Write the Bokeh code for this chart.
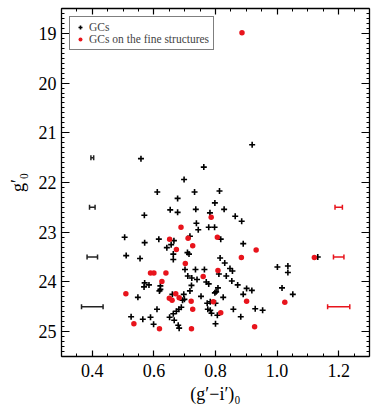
from bokeh.plotting import figure
from bokeh.models import (Range1d, LinearAxis, Whisker, ColumnDataSource, Legend,
                          LegendItem, TeeHead, SingleIntervalTicker, NumeralTickFormatter,
                          CustomJSTickFormatter)
from bokeh.embed import file_html
from bokeh.resources import INLINE

# ---- data: all GCs (black crosses) ----
gc_color = [0.558, 0.762, 0.698, 0.611, 0.732, 0.677, 0.653, 0.677, 0.736, 0.569,
            0.782, 0.738, 0.744, 0.778, 0.797, 0.919, 0.813, 0.798, 0.828, 0.864,
            0.885, 0.505, 0.570, 0.616, 0.665, 0.717, 0.656, 0.642, 0.510, 0.555,
            0.663, 0.663, 0.709, 0.714, 0.701, 0.735, 0.764, 0.710, 0.723, 0.740,
            0.770, 0.570, 0.584, 0.568, 0.621, 0.621, 0.618, 0.722, 0.778, 0.717,
            0.697, 0.660, 0.548, 0.693, 0.699, 0.753, 0.773, 0.783, 0.689, 0.681,
            0.673, 0.663, 0.775, 0.783, 0.610, 0.651, 0.666, 0.526, 0.564, 0.589,
            0.599, 0.679, 0.682, 0.817, 0.890, 0.815, 0.830, 0.847, 0.855, 0.811,
            0.835, 0.853, 0.872, 0.808, 0.802, 0.798, 0.901, 0.918, 0.890, 0.825,
            0.800, 0.787, 0.806, 0.858, 0.929, 0.953, 0.882, 0.800, 1.001, 1.035,
            1.035, 1.016, 1.051, 1.132]
gc_mag = [21.52, 21.69, 21.94, 22.19, 22.19, 22.32, 22.55, 22.60, 22.54, 22.66,
          22.61, 22.82, 22.95, 22.90, 22.90, 21.24, 22.17, 22.41, 22.54, 22.68,
          22.78, 23.10, 23.21, 23.14, 23.17, 23.08, 23.25, 23.31, 23.47, 23.53,
          23.44, 23.55, 23.41, 23.44, 23.75, 23.75, 23.75, 23.88, 23.92, 23.95,
          24.00, 24.02, 24.06, 24.10, 24.08, 24.15, 24.18, 24.07, 24.04, 24.18,
          24.25, 24.25, 24.31, 24.37, 24.35, 24.29, 24.43, 24.40, 24.51, 24.55,
          24.59, 24.64, 24.55, 24.57, 24.55, 24.71, 24.77, 24.70, 24.75, 24.71,
          24.85, 24.87, 24.93, 23.14, 23.23, 23.52, 23.62, 23.73, 23.78, 23.84,
          23.88, 23.98, 24.06, 24.12, 24.20, 24.22, 24.13, 24.17, 24.25, 24.31,
          24.43, 24.63, 24.67, 24.55, 24.54, 24.57, 24.70, 24.84, 23.70, 23.68,
          23.81, 24.12, 24.25, 23.50]

# ---- data: GCs on the fine structures (red dots) ----
fs_color = [0.886, 0.786, 0.688, 0.651, 0.711, 0.673, 0.726, 0.702, 0.589, 0.600,
            0.639, 0.626, 0.760, 0.671, 0.682, 0.650, 0.659, 0.509, 0.721, 0.726,
            0.535, 0.618, 0.722, 0.806, 0.932, 0.884, 0.808, 0.901, 0.793, 0.817,
            0.927, 1.025, 1.121]
fs_mag = [18.99, 22.70, 22.90, 23.14, 23.12, 23.35, 23.27, 23.63, 23.82, 23.82,
          23.82, 23.99, 23.89, 24.24, 24.32, 24.33, 24.37, 24.24, 24.39, 24.55,
          24.84, 24.94, 24.94, 23.10, 23.36, 23.51, 23.77, 24.39, 24.40, 24.62,
          24.90, 24.41, 23.51]

# ---- typical colour errors ----
err_mag_black = [21.5, 22.5, 23.5, 24.5]
err_black = [0.0045, 0.009, 0.017, 0.035]
err_pos_black = 0.4
err_mag_red = [22.5, 23.5, 24.5]
err_red = [0.012, 0.017, 0.036]
err_pos_red = 1.2

x_title = "(g′−i′)₀"
y_title = "g′₀"

RED = "#e8141c"
FONT = "Liberation Serif"

p = figure(width=375, height=412, x_range=Range1d(0.3, 1.3), y_range=Range1d(25.5, 18.5),
           output_backend="svg", toolbar_location=None,
           min_border_left=61, min_border_right=6, min_border_top=8, min_border_bottom=56)
p.xgrid.grid_line_color = None
p.ygrid.grid_line_color = None
p.outline_line_color = None
p.background_fill_color = "white"

xt = SingleIntervalTicker(interval=0.2, num_minor_ticks=4)
yt = SingleIntervalTicker(interval=1, num_minor_ticks=10)


def style_axis(ax, major_len, minor_len):
    ax.axis_line_color = "black"
    ax.axis_line_width = 1.3
    ax.major_tick_line_color = "black"
    ax.minor_tick_line_color = "black"
    ax.major_tick_line_width = 1.2
    ax.minor_tick_line_width = 1.0
    ax.major_tick_in = major_len
    ax.major_tick_out = 0
    ax.minor_tick_in = minor_len
    ax.minor_tick_out = 0


xa = p.xaxis[0]
ya = p.yaxis[0]
xa.ticker = xt
xa.formatter = NumeralTickFormatter(format="0.0")
ya.ticker = yt
style_axis(xa, 6, 3)
style_axis(ya, 8, 3)
for ax in (xa, ya):
    ax.major_label_text_font = FONT
    ax.major_label_text_font_size = "18px"
    ax.major_label_text_color = "black"
    ax.axis_label_text_font = FONT
    ax.axis_label_text_font_style = "normal"
    ax.axis_label_text_font_size = "18px"
    ax.axis_label_text_color = "black"
xa.major_label_standoff = 7
ya.major_label_standoff = 5
xa.axis_label = x_title
ya.axis_label = y_title
xa.axis_label_standoff = 4
ya.axis_label_standoff = 8

blank = CustomJSTickFormatter(code="return ''")
top = LinearAxis(ticker=xt, formatter=blank, major_label_standoff=0)
right = LinearAxis(ticker=yt, formatter=blank, major_label_standoff=0)
style_axis(top, 6, 3)
style_axis(right, 8, 3)
p.add_layout(top, "above")
p.add_layout(right, "right")

# error bars
src_b = ColumnDataSource(dict(y=err_mag_black,
                              lo=[err_pos_black - e for e in err_black],
                              hi=[err_pos_black + e for e in err_black]))
src_r = ColumnDataSource(dict(y=err_mag_red,
                              lo=[err_pos_red - e for e in err_red],
                              hi=[err_pos_red + e for e in err_red]))
for src, col in ((src_b, "#222222"), (src_r, RED)):
    w = Whisker(source=src, base="y", lower="lo", upper="hi", dimension="width",
                line_color=col, line_width=1.5,
                upper_head=TeeHead(size=5, line_color=col, line_width=1.5),
                lower_head=TeeHead(size=5, line_color=col, line_width=1.5))
    p.add_layout(w)

r_black = p.scatter(gc_color, gc_mag, marker="cross", size=6, line_width=1.6, line_color="black")
r_red = p.scatter(fs_color, fs_mag, marker="circle", size=5.5, fill_color=RED, line_color=None)

legend = Legend(items=[LegendItem(label="GCs", renderers=[r_black]),
                       LegendItem(label="GCs on the fine structures", renderers=[r_red])],
                location="top_left", margin=8, padding=4, spacing=0,
                label_height=10, glyph_height=10, glyph_width=12, label_standoff=3,
                label_text_font=FONT, label_text_font_size="11.5px",
                border_line_color="black", border_line_width=1.2,
                background_fill_alpha=1)
p.add_layout(legend)

open("out.html", "w").write(file_html(p, INLINE))
